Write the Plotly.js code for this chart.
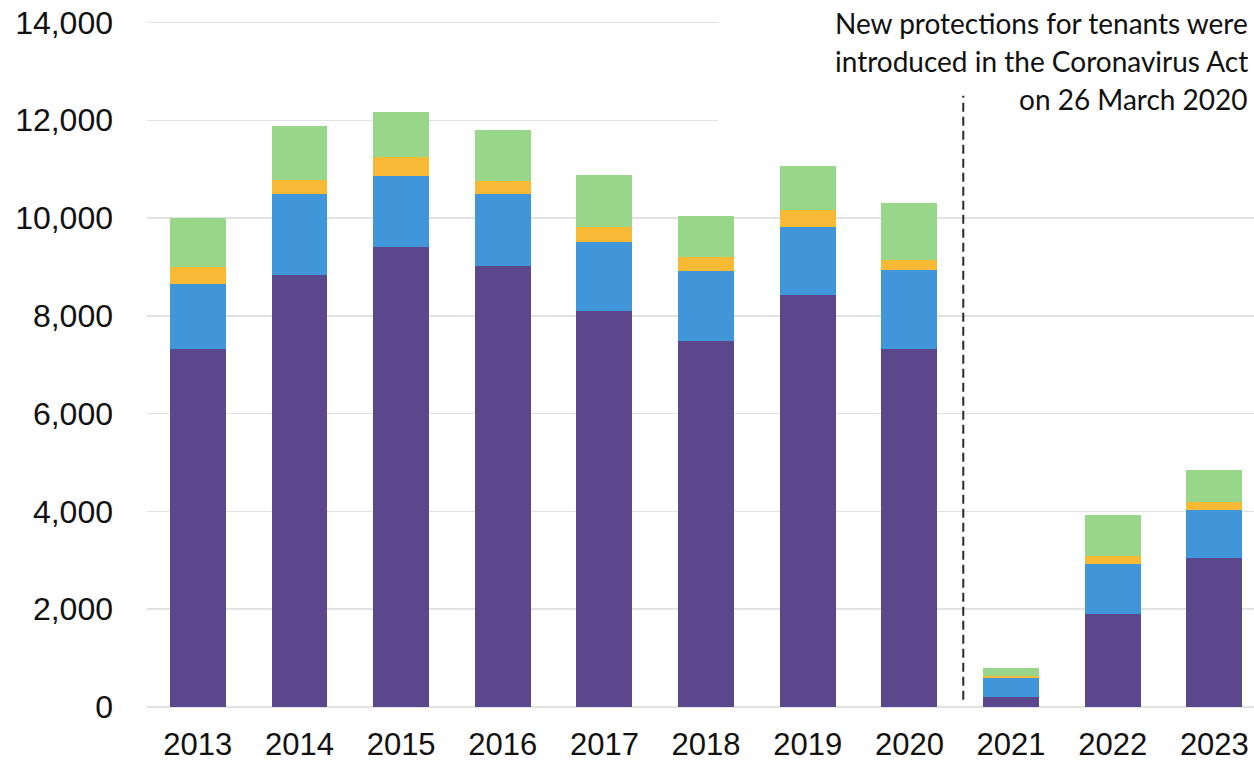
<!DOCTYPE html>
<html>
<head>
<meta charset="utf-8">
<script src="https://cdn.plot.ly/plotly-3.0.1.min.js"></script>
<style>html,body{margin:0;padding:0;background:#fff;}#chart{width:1254px;height:761px;}</style>
</head>
<body>
<div id="chart"></div>
<script>
const years = ["2013","2014","2015","2016","2017","2018","2019","2020","2021","2022","2023"];
const seriesPurple = [7320, 8830, 9410, 9010, 8090, 7490, 8420, 7320, 210, 1910, 3050];
const seriesBlue   = [1330, 1670, 1460, 1490, 1420, 1420, 1390, 1610, 375, 1010, 975];
const seriesYellow = [350, 285, 380, 265, 305, 290, 350, 220, 55, 160, 160];
const seriesGreen  = [1000, 1095, 910, 1030, 1075, 850, 905, 1160, 150, 850, 655];
const yTicks = [0, 2000, 4000, 6000, 8000, 10000, 12000, 14000];
const noteLines = ["New protections for tenants were", "introduced in the Coronavirus Act", "on 26 March 2020"];

const colors = ["#5B478B", "#4196DA", "#F8B934", "#98D78A"];
const names = ["Series 1", "Series 2", "Series 3", "Series 4"];
const data = [seriesPurple, seriesBlue, seriesYellow, seriesGreen].map((vals, i) => ({
  type: "bar",
  x: years,
  y: vals,
  name: names[i],
  marker: {color: colors[i], line: {width: 0}},
  width: 0.55,
  hoverinfo: "x+y+name"
}));

const noteFont = {family: "Lato, Open Sans, sans-serif", size: 28, color: "#111111"};

const layout = {
  width: 1254, height: 761,
  margin: {l: 147, r: 0, t: 21, b: 54},
  paper_bgcolor: "#ffffff",
  plot_bgcolor: "#ffffff",
  barmode: "stack",
  showlegend: false,
  font: {family: "Liberation Sans, Arial, sans-serif", color: "#111111"},
  xaxis: {
    type: "category",
    range: [-0.5, 10.39],
    showgrid: false, zeroline: false, showline: false,
    ticks: "",
    tickfont: {size: 31, color: "#111111"},
    ticklabelstandoff: 16
  },
  yaxis: {
    range: [0, 14030],
    tickvals: yTicks,
    tickformat: ",d",
    showgrid: true, gridcolor: "#e2e2e2", gridwidth: 1.5,
    zeroline: true, zerolinecolor: "#e2e2e2", zerolinewidth: 1.5,
    showline: false, ticks: "",
    tickfont: {size: 32, color: "#111111"},
    ticklabelstandoff: 33
  },
  shapes: [
    {type: "rect", xref: "x", yref: "y", x0: 5.12, x1: 10.6, y0: 11000, y1: 14600,
     fillcolor: "#ffffff", line: {width: 0}, layer: "between"},
    {type: "line", xref: "x", yref: "y", x0: 7.53, x1: 7.53, y0: 150, y1: 12500,
     line: {color: "#2a2a2a", width: 2, dash: "9px,5px"}, layer: "above"}
  ],
  annotations: noteLines.map((t, i) => ({
    text: t, xref: "paper", yref: "paper", x: 0.9965, y: [0.997, 0.9416, 0.886][i],
    xanchor: "right", yanchor: "middle", align: "right",
    showarrow: false, font: noteFont
  }))
};

Plotly.newPlot("chart", data, layout, {displayModeBar: false, staticPlot: true});
</script>
</body>
</html>
